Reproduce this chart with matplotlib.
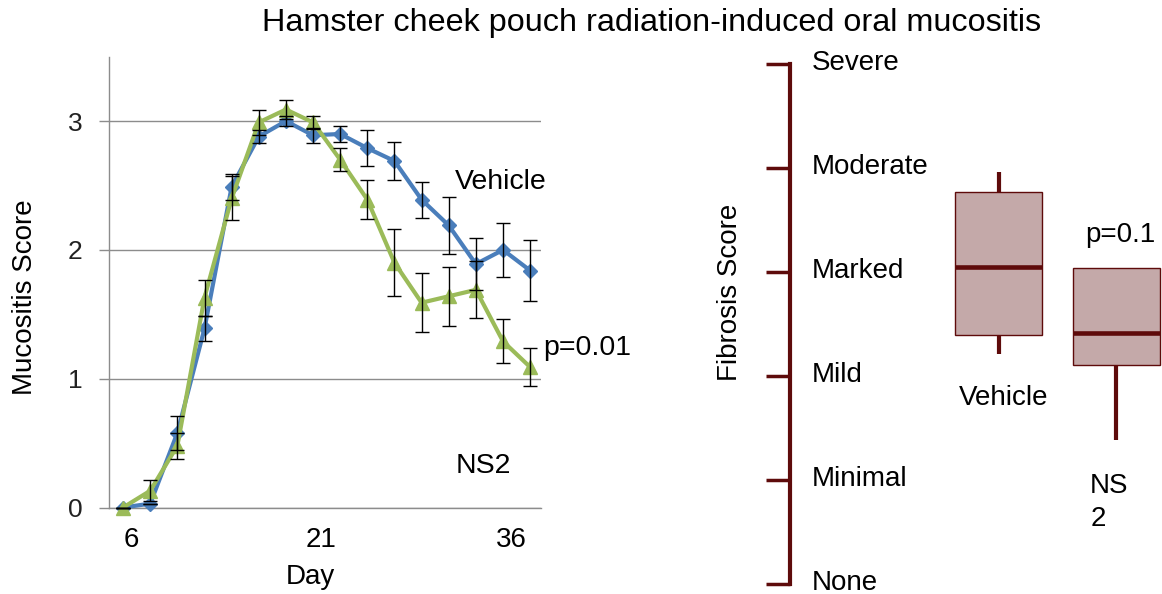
import matplotlib
matplotlib.use("Agg")
import matplotlib.pyplot as plt
from matplotlib.transforms import ScaledTranslation

plt.rcParams['font.family'] = ['Liberation Sans', 'DejaVu Sans']

# DATA
# mucositis score per scoring day (category index), label every 7th category
day_labels = ["6", "21", "36"]
label_every = 7
vehicle = [0.0, 0.03, 0.58, 1.39, 2.49, 2.88, 3.0, 2.89, 2.90, 2.79, 2.69, 2.39, 2.19, 1.89, 2.0, 1.84]
vehicle_err = [0.0, 0.0, 0.13, 0.10, 0.10, 0.05, 0.04, 0.06, 0.06, 0.14, 0.15, 0.14, 0.22, 0.20, 0.21, 0.24]
ns2 = [0.0, 0.13, 0.48, 1.63, 2.40, 2.99, 3.09, 2.99, 2.70, 2.39, 1.90, 1.59, 1.64, 1.69, 1.29, 1.09]
ns2_err = [0.0, 0.08, 0.10, 0.14, 0.17, 0.10, 0.07, 0.05, 0.09, 0.15, 0.26, 0.23, 0.23, 0.22, 0.17, 0.15]
muco_ticks = [0, 1, 2, 3]

# fibrosis scores (0 = None ... 5 = Severe)
fib_levels = ["None", "Minimal", "Mild", "Marked", "Moderate", "Severe"]
fib_groups = ["Vehicle", "NS\n2"]
fib_whislo = [2.21, 1.38]
fib_q1 = [2.39, 2.11]
fib_med = [3.05, 2.41]
fib_q3 = [3.77, 3.04]
fib_whishi = [3.96, 3.04]

# STYLE
BLUE = '#4A7EBB'
GREEN = '#9BBB59'
GRID = '#8C8C8C'
MAROON = '#5E0B0B'
BOXFILL = '#C4A9A9'
W, H = 1162, 594

fig = plt.figure(figsize=(W / 100, H / 100), dpi=100)

fig.text(0.561, 0.962, "Hamster cheek pouch radiation-induced oral mucositis",
         ha='center', va='center', fontsize=23.3)

# LEFT: mucositis time course
ax1 = fig.add_axes([109 / W, (H - 507.5) / H, 432 / W, 450.8 / H])
x = list(range(len(vehicle)))

ax1.plot(x, vehicle, color=BLUE, lw=3, marker='D', ms=7, zorder=3, clip_on=False)
ax1.plot(x, ns2, color=GREEN, lw=3, marker='^', ms=10, zorder=4, clip_on=False)
ax1.errorbar(x, vehicle, yerr=vehicle_err, fmt='none', ecolor='black',
             elinewidth=1, capsize=5, capthick=1, zorder=5, clip_on=False)
ax1.errorbar(x, ns2, yerr=ns2_err, fmt='none', ecolor='black',
             elinewidth=1, capsize=5, capthick=1, zorder=5, clip_on=False)

ax1.set_xlim(-0.52, 15.4)
ax1.set_ylim(0, 3.5)
ax1.set_yticks(muco_ticks)
ax1.yaxis.grid(True, color=GRID, lw=1)
ax1.set_axisbelow(True)
# Excel puts the category labels a little right of the point
ax1.set_xticks([i * label_every + 0.3 for i in range(len(day_labels))])
ax1.set_xticklabels(day_labels, fontsize=20)
ax1.tick_params(axis='x', length=0, pad=14)
ax1.tick_params(axis='y', length=7, color=GRID, width=1, pad=12, labelsize=19,
                labelcolor='#222222')
for side in ['top', 'right']:
    ax1.spines[side].set_visible(False)
for side in ['left', 'bottom']:
    ax1.spines[side].set_color(GRID)
    ax1.spines[side].set_linewidth(1)

ax1.set_xlabel("Day", fontsize=20)
ax1.xaxis.set_label_coords(0.465, -0.125)
ax1.set_ylabel("Mucositis Score", fontsize=20)
ax1.yaxis.set_label_coords(-0.164, 0.467)
ax1.text(12.24, 2.53, "Vehicle", fontsize=20.5, va='center')
ax1.text(15.48, 1.24, "p=0.01", fontsize=20.5, va='center')
ax1.text(12.24, 0.32, "NS2", fontsize=20.5, va='center')

# RIGHT: fibrosis score boxes
ax2 = fig.add_axes([790 / W, (H - 584) / H, (W - 790) / W, 520 / H])
ax2.set_ylim(0, 5)
ax2.set_xlim(-0.774, 2.391)

stats = []
for i in range(len(fib_groups)):
    stats.append(dict(whislo=fib_whislo[i], q1=fib_q1[i], med=fib_med[i],
                      q3=fib_q3[i], whishi=fib_whishi[i], fliers=[]))
ax2.bxp(stats, positions=[1, 2], widths=0.74, patch_artist=True,
        showcaps=False, showfliers=False,
        boxprops=dict(facecolor=BOXFILL, edgecolor=MAROON, linewidth=1),
        medianprops=dict(color=MAROON, linewidth=3.3, solid_capstyle='butt'),
        whiskerprops=dict(color=MAROON, linewidth=3, solid_capstyle='butt'))

for side in ['top', 'right', 'bottom']:
    ax2.spines[side].set_visible(False)
ax2.spines['left'].set_color(MAROON)
ax2.spines['left'].set_linewidth(3)
ax2.set_yticks(range(len(fib_levels)))
ax2.set_yticklabels([])
ax2.set_xticks([])
ax2.tick_params(axis='y', direction='out', length=17.5, width=2.5, color=MAROON)
lift = ScaledTranslation(0, -6 / 100, fig.dpi_scale_trans)
for i, name in enumerate(fib_levels):
    ax2.text(0.058, i, name, transform=ax2.get_yaxis_transform() + lift,
             fontsize=20, va='baseline', ha='left')

ax2.text(1.04, 1.79, fib_groups[0], fontsize=20, ha='center', va='center')
ax2.text(1.78, 0.78, fib_groups[1], fontsize=20, ha='left', va='center',
         linespacing=1.35)
ax2.text(1.736, 3.36, "p=0.1", fontsize=20, ha='left', va='center')

fig.text(730 / W, 1 - 292 / H, "Fibrosis Score", rotation=90, fontsize=20,
         ha='center', va='center')

fig.savefig("out.png", dpi=100)
